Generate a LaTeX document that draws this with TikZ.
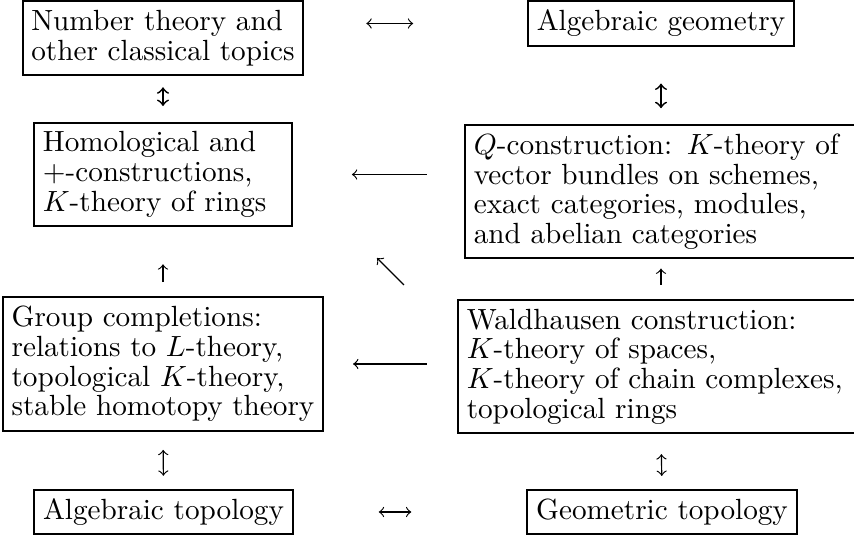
\documentclass[tikz,border=0pt]{standalone}
\begin{document}
\begin{tikzpicture}[x=0.3425pt,y=-0.3425pt]

\tikzset{mybox/.style={draw,line width=0.7pt,inner sep=3pt,align=left,font=\fontsize{10}{10.2}\selectfont},}
\tikzset{myarrow/.style={->,line width=0.4pt},}
\tikzset{myarrow2/.style={<->,line width=0.4pt},}
\tikzset{myarrow3/.style={<->,line width=0.6pt},}

\useasboundingbox (0,0) rectangle (854,537);

%LEFT COLUMN
\draw (163,38) node [mybox] (num) {Number theory and\\other classical topics};
\draw (163,174.5) node [mybox,text width=82.3pt] (hom) {Homological and\\$+$-constructions,\\$K$-theory of rings};
\draw (163,364) node [mybox] (grp) {Group completions:\\relations to $L$-theory,\\topological $K$-theory,\\stable homotopy theory};
\draw (163.5,512) node [mybox] (alg) {Algebraic topology};

%RIGHT COLUMN
\draw (661,23.5) node [mybox] (ag) {Algebraic geometry};
\draw (464,124) node [mybox,anchor=north west,text width=128pt] (q) {$Q$-construction: $K$-theory of\\vector bundles on schemes,\\exact categories, modules,\\and abelian categories};
\draw (457,299) node [mybox,anchor=north west,text width=130.5pt] (wald) {Waldhausen construction:\\$K$-theory of spaces,\\$K$-theory of chain complexes,\\topological rings};
\draw (662,512) node [mybox] (geo) {Geometric topology};

%ARROWS
\draw[myarrow2,shorten <=21.2pt,shorten >=39pt] (num.east |- ag) -- (ag.west);
\draw[myarrow3,shorten <=4pt,shorten >=5.4pt] (num.south) -- (hom.north);
\draw[myarrow3,shorten <=12.6pt,shorten >=5.4pt] (ag.south) -- (ag |- q.north);
\draw[myarrow,shorten <=12.7pt,shorten >=20.2pt] (q.west |- hom) -- (hom.east);
\draw[myarrow,shorten <=4.8pt,shorten >=12.7pt] (grp.north) -- (hom.south);
\draw[myarrow,shorten <=4.8pt,shorten >=3.1pt] (ag |- wald.north) -- (ag |- q.south);
\coordinate (d1) at (404,285);
\coordinate (d2) at (377,258);
\draw[myarrow] (d1) -- (d2);
\draw[myarrow,shorten <=10.3pt,shorten >=9.9pt] (wald.west |- grp) -- (grp.east);
\draw[myarrow2,shorten <=6.2pt,shorten >=4.45pt] (grp.south) -- (alg.north);
\draw[myarrow2,shorten <=6.85pt,shorten >=4.45pt] (ag |- wald.south) -- (geo.north);
\draw[myarrow2,shorten <=29.1pt,shorten >=39.4pt] (alg.east) -- (geo.west);

\end{tikzpicture}
\end{document}
